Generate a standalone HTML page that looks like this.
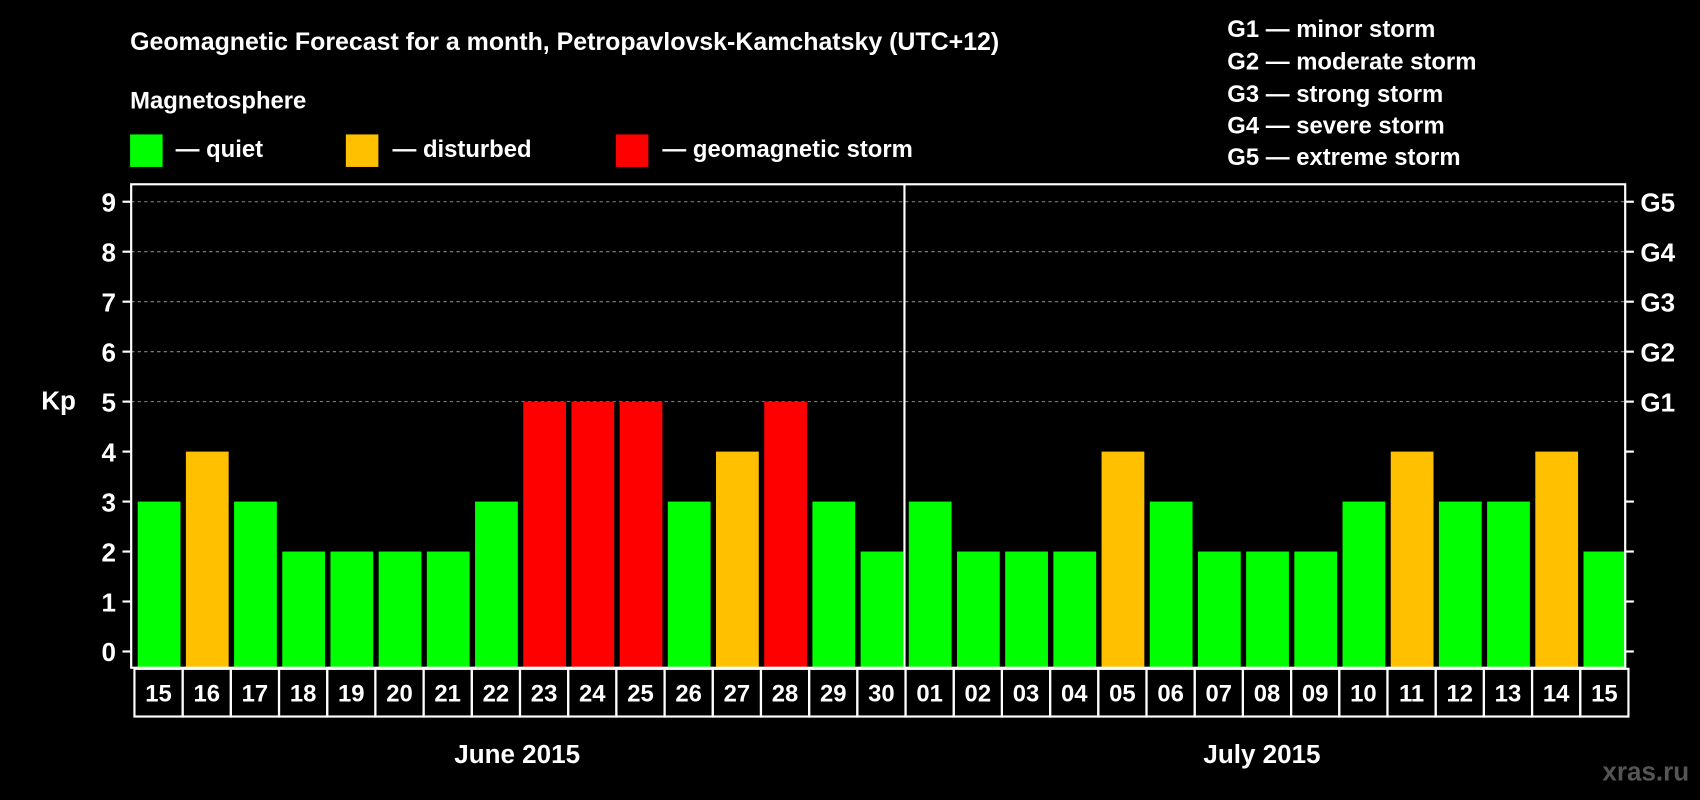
<!DOCTYPE html>
<html><head><meta charset="utf-8"><style>
html,body{margin:0;padding:0;background:#000;}
svg{display:block;}
text{font-family:"Liberation Sans",Arial,sans-serif;font-weight:bold;fill:#fff;}
</style></head><body>
<svg id="chart" width="1700" height="800" viewBox="0 0 1568 738" preserveAspectRatio="none" xmlns="http://www.w3.org/2000/svg">
<rect width="1568" height="738" fill="#000"/>
<text x="120" y="46" font-size="23">Geomagnetic Forecast for a month, Petropavlovsk-Kamchatsky (UTC+12)</text>
<text x="120" y="100" font-size="22">Magnetosphere</text>
<rect x="120" y="124" width="30" height="30" fill="#00ff00"/>
<text x="162" y="145" font-size="22">— quiet</text>
<rect x="319" y="124" width="30" height="30" fill="#ffc000"/>
<text x="362" y="145" font-size="22">— disturbed</text>
<rect x="568" y="124" width="30" height="30" fill="#ff0000"/>
<text x="611" y="145" font-size="22">— geomagnetic storm</text>
<g font-size="22">
<text x="1132" y="34">G1 — minor storm</text>
<text x="1132" y="64">G2 — moderate storm</text>
<text x="1132" y="94">G3 — strong storm</text>
<text x="1132" y="123">G4 — severe storm</text>
<text x="1132" y="152">G5 — extreme storm</text>
</g>
<text x="38" y="378" font-size="24">Kp</text>
<text x="1558" y="720" font-size="24" text-anchor="end" fill="#555" style="fill:#555">xras.ru</text>
<g id="plot"></g>
</svg>
<script>
const days = ["15","16","17","18","19","20","21","22","23","24","25","26","27","28","29","30","01","02","03","04","05","06","07","08","09","10","11","12","13","14","15"];
const kpValues = [3,4,3,2,2,2,2,3,5,5,5,3,4,5,3,2,3,2,2,2,4,3,2,2,2,3,4,3,3,4,2];
const yTicks = [0,1,2,3,4,5,6,7,8,9];
const gLabels = ["G1","G2","G3","G4","G5"];
const months = ["June 2015","July 2015"];

const NS="http://www.w3.org/2000/svg";
const g=document.getElementById('plot');
const L=121,R=1499,T=170,B=616;
const y0=601,unit=46.1;
const slot=(R-L)/days.length;
const y=v=>y0-v*unit;
const xs=i=>L+3+i*slot*( (R-L-3)/(R-L) );
function mk(t,a){const e=document.createElementNS(NS,t);for(const k in a)e.setAttribute(k,a[k]);g.appendChild(e);return e;}
// gridlines
for(let v=5;v<=9;v++){const e=mk('line',{x1:L,x2:R,y1:y(v),y2:y(v),stroke:'#888','stroke-dasharray':'3,3','stroke-width':1});

}
// bars
kpValues.forEach((v,i)=>{
 const c=v>=5?'#ff0000':(v>=4?'#ffc000':'#00ff00');
 const e=mk('rect',{x:L+6+i*slot,y:y(v),width:slot-5,height:B-y(v),fill:c});
 
 
});
// frame
const fr=mk('rect',{x:L,y:T,width:R-L,height:B-T,fill:'none',stroke:'#fff','stroke-width':2});


const dv=mk('line',{x1:L+16*slot+2,x2:L+16*slot+2,y1:T,y2:B,stroke:'#fff','stroke-width':2});


// y ticks
yTicks.forEach(v=>{
 mk('line',{x1:L-8,x2:L,y1:y(v),y2:y(v),stroke:'#fff','stroke-width':2});
 mk('line',{x1:R,x2:R+8,y1:y(v),y2:y(v),stroke:'#fff','stroke-width':2});
 const t=mk('text',{x:L-14,y:y(v)+9,'font-size':24,'text-anchor':'end'});t.textContent=v;
 
 
});
gLabels.forEach((s,i)=>{const t=mk('text',{x:R+14,y:y(i+5)+9,'font-size':24});t.textContent=s;
 
 });
// date boxes
days.forEach((d,i)=>{
 const x=L+3+i*slot;
 mk('rect',{x:x,y:B+1,width:slot,height:44,fill:'none',stroke:'#fff','stroke-width':2});
 const t=mk('text',{x:x+slot/2,y:B+31,'font-size':22,'text-anchor':'middle'});t.textContent=d;
 
 
});
const m1=mk('text',{x:477,y:704,'font-size':24,'text-anchor':'middle'});m1.textContent=months[0];


const m2=mk('text',{x:1164,y:704,'font-size':24,'text-anchor':'middle'});m2.textContent=months[1];


</script>
</body></html>
